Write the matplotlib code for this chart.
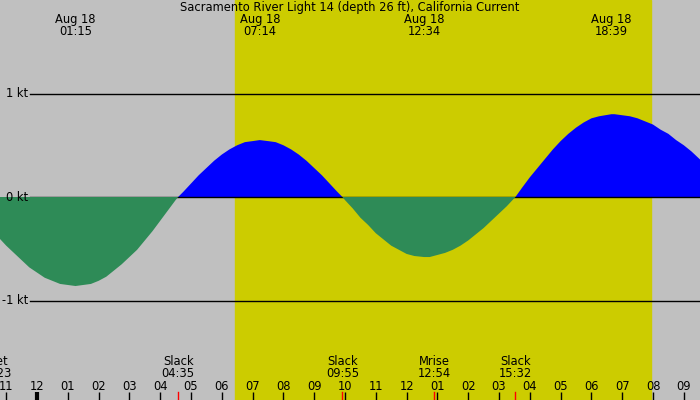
import numpy as np
import matplotlib.pyplot as plt
import matplotlib.transforms as mtransforms

# current readings (hours after midnight Aug 18, knots)
hours = [-1.5, -1.25, -1.0, -0.75, -0.5, -0.25, 0.0, 0.25, 0.5, 0.75, 1.0, 1.25,
         1.5, 1.75, 2.0, 2.25, 2.5, 2.75, 3.0, 3.25, 3.5, 3.75, 4.0, 4.25, 4.5, 4.583,
         4.75, 5.0, 5.25, 5.5, 5.75, 6.0, 6.25, 6.5, 6.75, 7.0, 7.233,
         7.5, 7.75, 8.0, 8.25, 8.5, 8.75, 9.0, 9.25, 9.5, 9.75, 9.917,
         10.0, 10.25, 10.5, 10.75, 11.0, 11.25, 11.5, 11.75, 12.0, 12.25, 12.567,
         12.75, 13.0, 13.25, 13.5, 13.75, 14.0, 14.25, 14.5, 14.75, 15.0, 15.25, 15.533,
         15.75, 16.0, 16.25, 16.5, 16.75, 17.0, 17.25, 17.5, 17.75, 18.0, 18.25, 18.65,
         18.75, 19.0, 19.25, 19.5, 19.75, 20.0, 20.25, 20.5, 20.75, 21.0, 21.25, 21.5, 21.75, 22.0]
speed = [-0.30, -0.39, -0.47, -0.54, -0.61, -0.68, -0.73, -0.78, -0.81, -0.84, -0.85, -0.86,
         -0.85, -0.84, -0.81, -0.77, -0.71, -0.65, -0.58, -0.51, -0.42, -0.33, -0.23, -0.13, -0.03, 0.0,
         0.05, 0.13, 0.21, 0.28, 0.35, 0.41, 0.46, 0.50, 0.53, 0.54, 0.55,
         0.54, 0.53, 0.50, 0.46, 0.41, 0.35, 0.28, 0.21, 0.13, 0.05, 0.0,
         -0.03, -0.11, -0.20, -0.27, -0.35, -0.41, -0.47, -0.51, -0.55, -0.57, -0.58,
         -0.58, -0.56, -0.54, -0.51, -0.47, -0.42, -0.36, -0.30, -0.23, -0.16, -0.09, 0.0,
         0.09, 0.19, 0.28, 0.37, 0.46, 0.54, 0.61, 0.67, 0.72, 0.76, 0.78, 0.80,
         0.80, 0.79, 0.78, 0.76, 0.73, 0.70, 0.65, 0.61, 0.55, 0.50, 0.44, 0.37, 0.30, 0.23]

# max / min current labels on top
peak_hours = [1.25, 7.233, 12.567, 18.65]
peak_labels = ["Aug 18\n01:15", "Aug 18\n07:14", "Aug 18\n12:34", "Aug 18\n18:39"]

# events along the bottom
event_hours = [-1.37, 4.583, 9.917, 12.9, 15.533]
event_names = ["Mset", "Slack", "Slack", "Mrise", "Slack"]
event_times = ["22:23", "04:35", "09:55", "12:54", "15:32"]

sunrise = 6.43
sunset = 19.94

hour_ticks = list(range(-1, 22))
hour_labels = ["%02d" % (((h % 12) or 12)) for h in hour_ticks]

kt_levels = [1, 0, -1]
kt_labels = ["1 kt", "0 kt", "-1 kt"]

title = "Sacramento River Light 14 (depth 26 ft), California Current"

plt.rcParams['font.family'] = ['DejaVu Sans']
fs = 8.3

fig = plt.figure(figsize=(7, 4), dpi=100)
ax = fig.add_axes([0, 0, 1, 1])
ax.set_facecolor('#c0c0c0')
ax.set_xlim(-37 / 30.8, 663 / 30.8)
ax.set_ylim(-203 / 103.5, 197 / 103.5)
ax.axis('off')
fig.patch.set_facecolor('#c0c0c0')

# daylight
ax.axvspan(sunrise, sunset, color='#cccc00', zorder=1)

h = np.array(hours)
s = np.array(speed)
ax.fill_between(h, 0, s, where=s >= 0, interpolate=True, color='#0000ff', lw=0, zorder=2)

# pixel-based y (0 at top), data x
def ypx(p):
    return 1 - p / 400.0

bt = mtransforms.blended_transform_factory(ax.transData, ax.transAxes)
x0 = ax.get_xlim()[0]
for lev, lab in zip(kt_levels, kt_labels):
    ax.plot([x0 + 30 / 30.8, ax.get_xlim()[1]], [lev, lev], color='black', lw=1, zorder=3)
    ax.text(x0 + 28 / 30.8, lev, lab, ha='right', va='center', fontsize=fs, zorder=5)

ax.fill_between(h, 0, s, where=s <= 0, interpolate=True, color='#2e8b57', lw=0, zorder=4)

ax.text(0.5, ypx(7.5), title, transform=ax.transAxes, ha='center', va='center',
        fontsize=fs, color='black', zorder=6)

for ph, pl in zip(peak_hours, peak_labels):
    ax.text(ph, ypx(25.5), pl, transform=bt, ha='center', va='center', fontsize=fs,
            linespacing=0.95, zorder=6)

for eh, en, et in zip(event_hours, event_names, event_times):
    ax.text(eh, ypx(367.5), en + "\n" + et, transform=bt, ha='center', va='center',
            fontsize=fs, linespacing=0.95, zorder=6)
    ax.plot([eh, eh], [ypx(392), ypx(400)], transform=bt, color='red', lw=1, zorder=6)

for ht, hl in zip(hour_ticks, hour_labels):
    ax.text(ht, ypx(386), hl, transform=bt, ha='center', va='center', fontsize=fs, zorder=6)
    ax.plot([ht, ht], [ypx(392), ypx(400)], transform=bt, color='black',
            lw=3 if ht == 0 else 1, solid_capstyle='butt', zorder=6)

plt.savefig('out.png', dpi=100, facecolor='#c0c0c0')
